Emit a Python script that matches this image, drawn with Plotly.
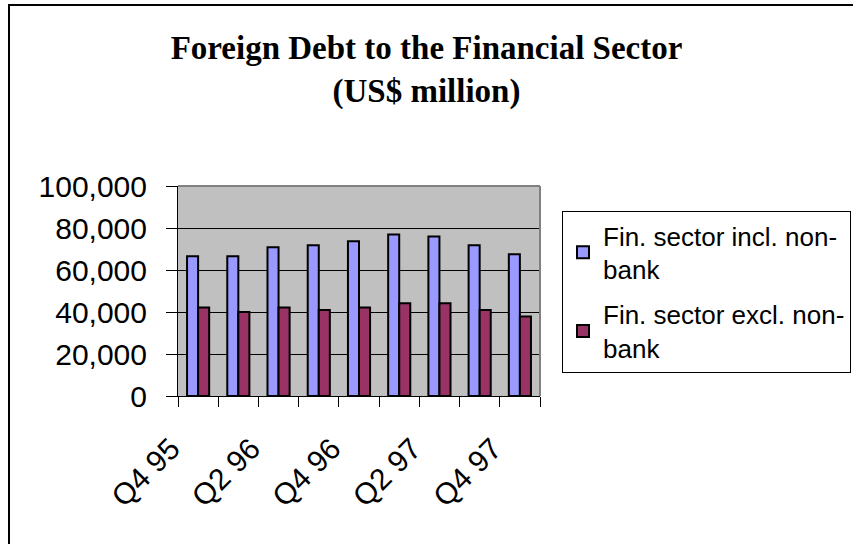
import plotly.graph_objects as go

# Quarterly foreign debt owed to the financial sector, US$ million
quarters = ["Q4 95", "Q1 96", "Q2 96", "Q3 96", "Q4 96", "Q1 97", "Q2 97", "Q3 97", "Q4 97"]
incl_nonbank = [66500, 66500, 70800, 71800, 73700, 76900, 75900, 71800, 67500]
excl_nonbank = [42100, 40000, 42100, 41000, 42100, 44200, 44200, 41000, 37800]
series_names = ["Fin. sector incl. non-<br>bank", "Fin. sector excl. non-<br>bank"]
y_ticks = [0, 20000, 40000, 60000, 80000, 100000]

# every second quarter is labelled on the category axis
tick_labels = [q if i % 2 == 0 else "" for i, q in enumerate(quarters)]

W, H = 853, 544
L, R, T, B = 178, 540, 186, 396  # plot area in pixels

fig = go.Figure()
fig.add_trace(go.Bar(x=quarters, y=incl_nonbank, name=series_names[0], legendgroup="a",
                     marker=dict(color="#9999FF", line=dict(color="black", width=2))))
fig.add_trace(go.Bar(x=quarters, y=excl_nonbank, name=series_names[1], legendgroup="b",
                     marker=dict(color="#993366", line=dict(color="black", width=2))))


def px_x(p):
    return (p - L) / (R - L)


def px_y(p):
    return (B - p) / (B - T)


fig.update_layout(
    width=W, height=H,
    margin=dict(l=L, r=W - R, t=T, b=H - B, pad=0, autoexpand=False),
    paper_bgcolor="white",
    plot_bgcolor="#C0C0C0",
    barmode="group",
    bargap=0.45,
    bargroupgap=0,
    font=dict(family="Liberation Sans, Arial, sans-serif", color="black"),
    title=dict(
        text="Foreign Debt to the Financial Sector<br>(US$ million)",
        font=dict(family="Liberation Serif, Times New Roman, serif", size=33,
                  color="black", weight="bold"),
        x=0.5, xref="container", xanchor="center",
        y=1 - 59 / H, yref="container", yanchor="middle",
    ),
    xaxis=dict(
        type="category",
        range=[-0.5, len(quarters) - 0.5],
        tickmode="array", tickvals=quarters, ticktext=tick_labels,
        tickson="boundaries", ticks="outside", ticklen=10, tickcolor="black", tickwidth=1,
        tickangle=-45, tickfont=dict(size=30),
        ticklabelshift=-27, ticklabelstandoff=22,
        showline=True, linecolor="black", linewidth=1,
        showgrid=False, zeroline=False,
    ),
    yaxis=dict(
        range=[0, 100000],
        tickmode="array", tickvals=y_ticks, tickformat=",d",
        ticks="outside", ticklen=11, tickcolor="black", tickwidth=1,
        ticklabelstandoff=13,
        tickfont=dict(size=30),
        showline=True, linecolor="black", linewidth=1,
        showgrid=True, gridcolor="black", gridwidth=1,
        zeroline=False,
    ),
    legend=dict(
        x=px_x(562), y=px_y(211), xanchor="left", yanchor="top",
        bgcolor="white", bordercolor="black", borderwidth=1,
        font=dict(size=26),
        tracegroupgap=8,
    ),
    shapes=[
        # grey frame on the top and right of the plot area
        dict(type="line", xref="paper", yref="paper", x0=0, x1=1, y0=1, y1=1,
             line=dict(color="#808080", width=2)),
        dict(type="line", xref="paper", yref="paper", x0=1, x1=1, y0=0, y1=1,
             line=dict(color="#808080", width=2)),
        # chart border
        dict(type="rect", xref="paper", yref="paper",
             x0=px_x(9), x1=px_x(W + 5), y0=px_y(H + 5), y1=px_y(5),
             line=dict(color="black", width=2), layer="above"),
    ],
)

fig.write_html("out.html")
